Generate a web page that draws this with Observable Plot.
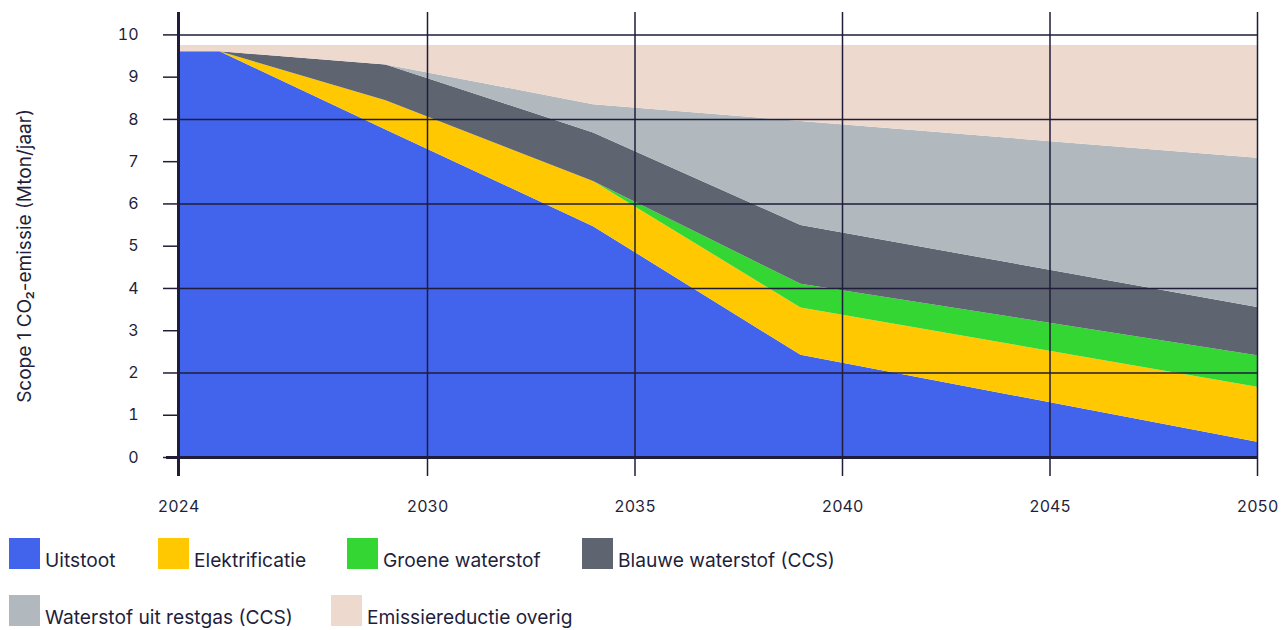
<!DOCTYPE html>
<html>
<head>
<meta charset="utf-8">
<script src="https://cdn.jsdelivr.net/npm/d3@7"></script>
<script src="https://cdn.jsdelivr.net/npm/@observablehq/plot@0.6"></script>
<style>
  body { margin: 0; background: #fff; font-family: Inter, "Noto Sans", sans-serif; color: #1f1f3b; }
  #wrap { position: relative; width: 1281px; height: 630px; overflow: hidden; }
  #chart { position: absolute; left: 0; top: 0; }
  .item { position: absolute; display: flex; align-items: flex-end; font-size: 19.2px; line-height: 1; white-space: nowrap; }
  .sw { width: 31px; height: 31px; margin-right: 5px; flex: none; }
  .lbl { position: relative; top: 1px; }
</style>
</head>
<body>
<div id="wrap">
  <div id="chart"></div>
  <div id="legend"></div>
</div>
<script>
const years = [2024, 2025, 2029, 2034, 2039, 2050];
const series = ["Uitstoot", "Elektrificatie", "Groene waterstof", "Blauwe waterstof (CCS)", "Waterstof uit restgas (CCS)", "Emissiereductie overig"];
const colors = ["#4263eb", "#ffc800", "#33d633", "#5e6570", "#b1b9be", "#eed9cf"];
const uitstoot        = [9.6, 9.6, 7.75, 5.46, 2.42, 0.36];
const elektrificatie  = [0, 0, 0.69, 1.07, 1.12, 1.30];
const groeneWaterstof = [0, 0, 0, 0, 0.56, 0.75];
const blauweWaterstof = [0, 0, 0.85, 1.15, 1.39, 1.14];
const restgas         = [0, 0, 0, 0.67, 2.46, 3.53];
const overig          = [0.15, 0.15, 0.46, 1.40, 1.80, 2.67];
const xTicks = [2024, 2030, 2035, 2040, 2045, 2050];
const yTicks = [0, 1, 2, 3, 4, 5, 6, 7, 8, 9, 10];
const yGrid = [2, 4, 6, 8, 10];
const xGrid = [2030, 2035, 2040, 2045, 2050];
const yLabel = "Scope 1 CO\u2082-emissie (Mton/jaar)";

const values = [uitstoot, elektrificatie, groeneWaterstof, blauweWaterstof, restgas, overig];
const data = series.flatMap((s, i) => years.map((yr, j) => ({year: yr, series: s, value: values[i][j]})));

const ink = "#1f1d3a";
const chart = Plot.plot({
  width: 1281,
  height: 530,
  marginLeft: 178,
  marginRight: 24,
  marginTop: 12,
  marginBottom: 73,
  style: {fontFamily: "Inter, 'Noto Sans', sans-serif", color: "#1f1f3b", background: "transparent"},
  x: {domain: [2024, 2050]},
  y: {domain: [0, 10.53]},
  color: {domain: series, range: colors},
  marks: [
    Plot.areaY(data, {x: "year", y: "value", fill: "series", order: series}),
    Plot.ruleY(yGrid, {stroke: ink, strokeWidth: 1.5}),
    Plot.ruleX(xGrid, {stroke: ink, strokeWidth: 1.5, insetBottom: -19}),
    Plot.ruleX([2024], {stroke: ink, strokeWidth: 3, insetBottom: -19}),
    Plot.ruleY([0], {stroke: ink, strokeWidth: 3, insetLeft: -12}),
    Plot.axisY({ticks: yTicks, tickSize: 15, tickPadding: 25, fontSize: 16, label: null, stroke: ink, strokeWidth: 1.5}),
    Plot.axisX({ticks: xTicks, tickSize: 0, tickPadding: 43, fontSize: 16, label: null, tickFormat: d => String(d)}),
    Plot.text([yLabel], {frameAnchor: "left", textAnchor: "middle", rotate: -90, dx: -154, dy: 21, fontSize: 19, fill: "#1f1f3b"})
  ]
});
document.getElementById("chart").appendChild(chart);

const legendPos = [
  {left: 9, top: 538}, {left: 158, top: 538}, {left: 347, top: 538}, {left: 582, top: 538},
  {left: 9, top: 595}, {left: 331, top: 595}
];
const legend = document.getElementById("legend");
series.forEach((s, i) => {
  const item = document.createElement("div");
  item.className = "item";
  item.style.left = legendPos[i].left + "px";
  item.style.top = legendPos[i].top + "px";
  const sw = document.createElement("span");
  sw.className = "sw";
  sw.style.background = colors[i];
  const t = document.createElement("span");
  t.className = "lbl";
  t.textContent = s;
  item.appendChild(sw);
  item.appendChild(t);
  legend.appendChild(item);
});
</script>
</body>
</html>
